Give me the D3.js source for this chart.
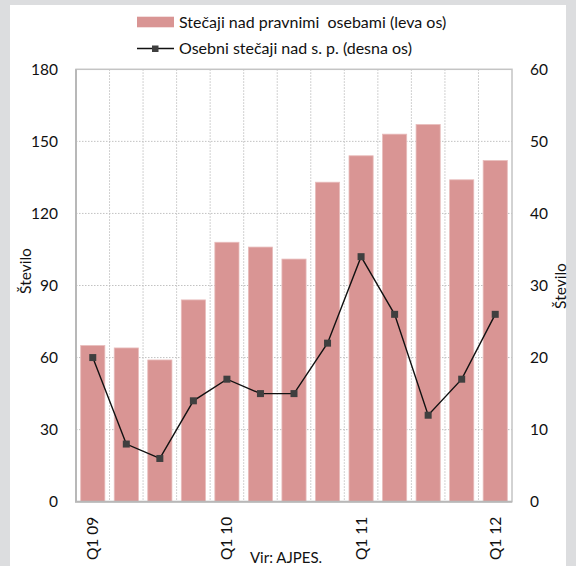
<!DOCTYPE html>
<html>
<head>
<meta charset="utf-8">
<script src="https://cdn.jsdelivr.net/npm/d3@7"></script>
<style>
  html, body { margin: 0; padding: 0; background: #dcdddf; }
  svg { display: block; }
  text { font-family: "Lato", "Noto Sans", sans-serif; fill: #111; }
</style>
</head>
<body>
<svg id="chart" width="576" height="566"></svg>
<script>
// Quarterly bankruptcy counts
const quarters = ["Q1 09","Q2 09","Q3 09","Q4 09","Q1 10","Q2 10","Q3 10","Q4 10",
                  "Q1 11","Q2 11","Q3 11","Q4 11","Q1 12"];
const legalEntities = [65, 64, 59, 84, 108, 106, 101, 133, 144, 153, 157, 134, 142];
const soleTraders = [20, 8, 6, 14, 17, 15, 15, 22, 34, 26, 12, 17, 26];
const leftTicks = [0, 30, 60, 90, 120, 150, 180];
const rightTicks = [0, 10, 20, 30, 40, 50, 60];
const shownQuarters = ["Q1 09", "Q1 10", "Q1 11", "Q1 12"];
const barLabel = "Stečaji nad pravnimi  osebami (leva os)";
const lineLabel = "Osebni stečaji nad s. p. (desna os)";
const axisTitle = "Število";
const sourceNote = "Vir: AJPES.";

const svg = d3.select("#chart");
const plot = { left: 76, right: 512, top: 69.3, bottom: 501.7 };

// white panel
svg.append("rect").attr("x", 10).attr("y", 5).attr("width", 556).attr("height", 561).attr("fill", "#fff");

const x = d3.scaleBand().domain(quarters).range([plot.left, plot.right]).paddingInner(0.28).paddingOuter(0.14);
const xStep = d3.scaleBand().domain(quarters).range([plot.left, plot.right]);
const yL = d3.scaleLinear().domain([0, 180]).range([plot.bottom, plot.top]);
const yR = d3.scaleLinear().domain([0, 60]).range([plot.bottom, plot.top]);

// grid
const grid = svg.append("g").attr("stroke", "#c2c2c2").attr("stroke-width", 1).attr("stroke-dasharray", "1.5,1.5");
grid.selectAll("line.h").data(leftTicks.slice(1, -1)).join("line")
  .attr("x1", plot.left).attr("x2", plot.right)
  .attr("y1", d => yL(d)).attr("y2", d => yL(d));
grid.selectAll("line.v").data(quarters.slice(1)).join("line")
  .attr("x1", d => xStep(d)).attr("x2", d => xStep(d))
  .attr("y1", plot.top).attr("y2", plot.bottom);

// bars
svg.append("g").selectAll("rect").data(legalEntities).join("rect")
  .attr("x", (d, i) => x(quarters[i]))
  .attr("width", x.bandwidth())
  .attr("y", d => yL(d))
  .attr("height", d => yL(0) - yL(d))
  .attr("fill", "#d99594")
  .attr("stroke", "#e8bcbb").attr("stroke-width", 0.8);

// frame
svg.append("rect").attr("x", plot.left).attr("y", plot.top)
  .attr("width", plot.right - plot.left).attr("height", plot.bottom - plot.top)
  .attr("fill", "none").attr("stroke", "#c4c4c4").attr("stroke-width", 1.5);
svg.append("path")
  .attr("d", `M${plot.left},${plot.top}V${plot.bottom}H${plot.right}`)
  .attr("fill", "none").attr("stroke", "#b8b8b8").attr("stroke-width", 2);

// line series on right axis
const cx = q => x(q) + x.bandwidth() / 2;
svg.append("path").datum(soleTraders)
  .attr("d", d3.line().x((d, i) => cx(quarters[i])).y(d => yR(d)))
  .attr("fill", "none").attr("stroke", "#111").attr("stroke-width", 1.4);
svg.append("g").selectAll("rect").data(soleTraders).join("rect")
  .attr("x", (d, i) => cx(quarters[i]) - 3.5)
  .attr("y", d => yR(d) - 3.5)
  .attr("width", 7).attr("height", 7)
  .attr("fill", "#3f3f3f");

// axes
const fontStack = "Lato, 'Noto Sans', sans-serif";
const leftAxis = d3.axisLeft(yL).tickValues(leftTicks).tickSize(0).tickPadding(18);
const gl = svg.append("g").attr("transform", `translate(${plot.left},0)`).call(leftAxis);
gl.select(".domain").remove();
gl.selectAll("text").attr("font-size", 15.5).attr("font-family", fontStack).attr("fill", "#111");

const rightAxis = d3.axisRight(yR).tickValues(rightTicks).tickSize(0).tickPadding(18);
const gr = svg.append("g").attr("transform", `translate(${plot.right},0)`).call(rightAxis);
gr.select(".domain").remove();
gr.selectAll("text").attr("font-size", 15.5).attr("font-family", fontStack).attr("fill", "#111");

// category labels
const bottomAxis = d3.axisBottom(x).tickValues(shownQuarters).tickSize(0).tickPadding(0);
const gb = svg.append("g").attr("transform", `translate(0,${plot.bottom})`).call(bottomAxis);
gb.select(".domain").remove();
gb.selectAll("text")
  .attr("font-size", 15.5).attr("font-family", fontStack).attr("fill", "#111")
  .attr("transform", "rotate(-90)")
  .attr("text-anchor", "end")
  .attr("x", -15).attr("y", 0).attr("dy", "0.35em");

// axis titles
svg.append("text").attr("transform", "translate(31,271) rotate(-90)")
  .attr("text-anchor", "middle").attr("font-size", 15.5).text(axisTitle);
svg.append("text").attr("transform", "translate(566,286) rotate(-90)")
  .attr("text-anchor", "middle").attr("font-size", 15.5).text(axisTitle);

// legend
const lg = svg.append("g");
lg.append("rect").attr("x", 137).attr("y", 16.7).attr("width", 37).attr("height", 10.6).attr("fill", "#d99594");
lg.append("text").attr("x", 179).attr("y", 27.5).attr("font-size", 16)
  .style("white-space", "pre").text(barLabel);
lg.append("line").attr("x1", 137).attr("x2", 174).attr("y1", 48.5).attr("y2", 48.5)
  .attr("stroke", "#111").attr("stroke-width", 1.4);
lg.append("rect").attr("x", 152).attr("y", 45.5).attr("width", 6.5).attr("height", 6.5).attr("fill", "#3f3f3f");
lg.append("text").attr("x", 179).attr("y", 53.5).attr("font-size", 16).text(lineLabel);

// source
svg.append("text").attr("x", 286).attr("y", 563).attr("text-anchor", "middle")
  .attr("font-size", 15).text(sourceNote);
</script>
</body>
</html>
